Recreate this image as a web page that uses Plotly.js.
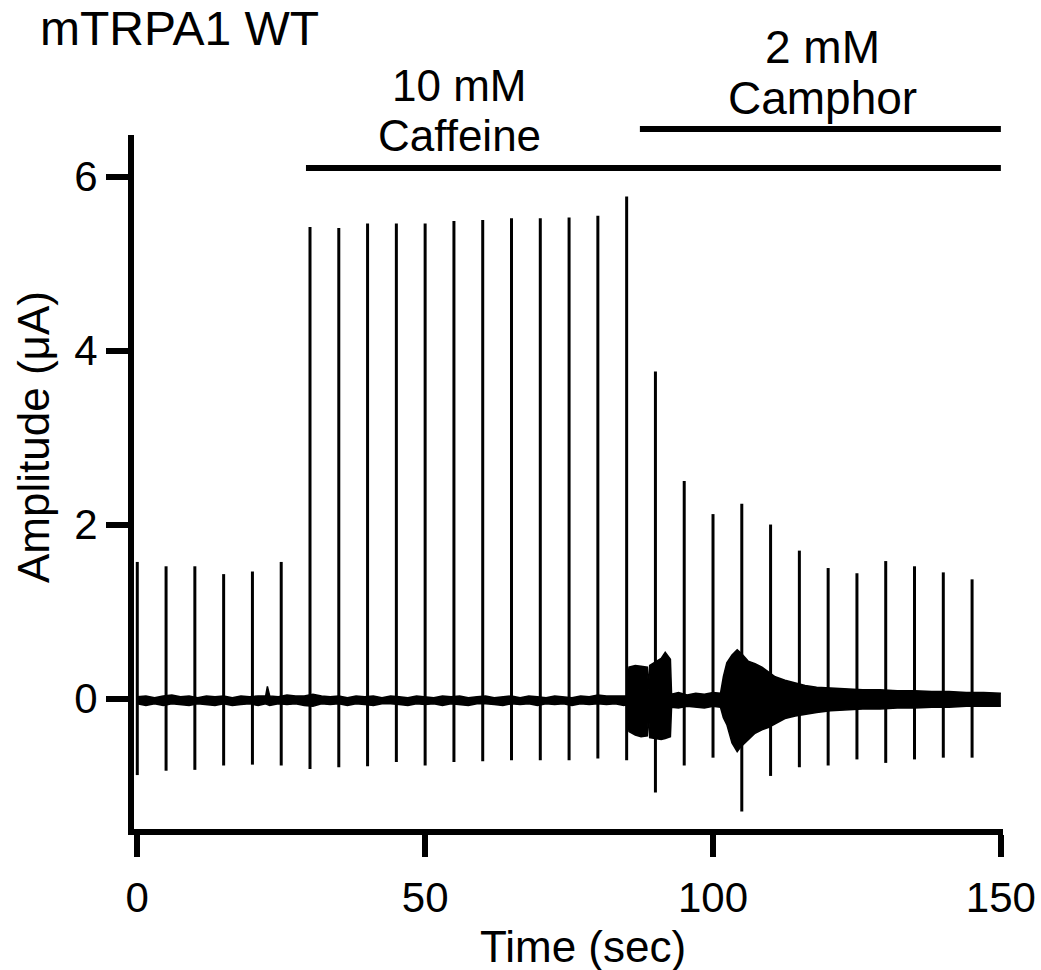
<!DOCTYPE html>
<html>
<head>
<meta charset="utf-8">
<script src="https://cdn.plot.ly/plotly-3.0.1.min.js"></script>
<style>html,body{margin:0;padding:0;background:#fff;}#chart{width:1041px;height:970px;}</style>
</head>
<body>
<div id="chart"></div>
<script>
// ---------------- data ----------------
var spikeTimes = [0, 5, 10, 15, 20, 25, 30, 35, 40, 45, 50, 55, 60, 65, 70, 75, 80, 85, 90, 95, 100, 105, 110, 115, 120, 125, 130, 135, 140, 145];
var spikePeak  = [1.57, 1.52, 1.52, 1.43, 1.46, 1.57, 5.42, 5.41, 5.46, 5.46, 5.46, 5.49, 5.50, 5.52, 5.52, 5.53, 5.55, 5.77, 3.76, 2.50, 2.12, 2.24, 2.00, 1.70, 1.50, 1.44, 1.58, 1.52, 1.45, 1.37];
var spikeTrough = [-0.88, -0.83, -0.82, -0.77, -0.76, -0.77, -0.81, -0.79, -0.78, -0.73, -0.77, -0.73, -0.72, -0.71, -0.71, -0.71, -0.69, -0.71, -1.08, -0.77, -0.68, -1.30, -0.89, -0.79, -0.77, -0.70, -0.74, -0.70, -0.68, -0.68];

// envelope of the recorded current trace (upper / lower edge)
var bandT = [
  0, 1.5, 3, 4.5, 6, 7.5, 9, 10.5, 12, 13.5,
  15, 16.5, 18, 19.5, 21, 22.3, 22.6, 23, 24.5, 26,
  27.5, 29, 30.5, 32, 33.5, 35, 36.5, 38, 39.5, 41,
  42.5, 44, 45.5, 47, 48.5, 50, 51.5, 53, 54.5, 56,
  57.5, 59, 60.5, 62, 63.5, 65, 66.5, 68, 69.5, 71,
  72.5, 74, 75.5, 77, 78.5, 80, 81.5, 83, 84.5, 85.0,
  85.4, 86.5, 87.5, 88.6, 88.8, 89.0, 90.0, 91.0, 91.7, 92.3,
  92.6, 92.8, 94, 95.5, 97, 98.5, 100, 101.3, 101.8, 102.4,
  103.3, 104.2, 104.9, 106.1, 107.3, 108.5, 109.7, 110.8, 112.5, 114.3,
  116, 118, 120.4, 123, 126, 129, 132, 135, 138, 141,
  144, 147, 150
];
var bandHi = [
  0.02, 0.03, 0.01, 0.03, 0.04, 0.02, 0.03, 0.01, 0.03, 0.02,
  0.03, 0.01, 0.03, 0.02, 0.03, 0.03, 0.14, 0.03, 0.02, 0.04,
  0.03, 0.03, 0.05, 0.03, 0.02, 0.03, 0.01, 0.03, 0.02, 0.03,
  0.01, 0.03, 0.02, 0.01, 0.03, 0.02, 0.01, 0.03, 0.02, 0.03,
  0.01, 0.02, 0.03, 0.01, 0.02, 0.03, 0.01, 0.03, 0.02, 0.01,
  0.03, 0.02, 0.01, 0.03, 0.02, 0.04, 0.03, 0.03, 0.03, 0.03,
  0.36, 0.38, 0.37, 0.36, 0.10, 0.38, 0.42, 0.46, 0.53, 0.48,
  0.45, 0.05, 0.07, 0.04, 0.06, 0.05, 0.07, 0.06, 0.25, 0.41,
  0.50, 0.56, 0.52, 0.43, 0.40, 0.36, 0.30, 0.25, 0.21, 0.18,
  0.15, 0.13, 0.12, 0.11, 0.10, 0.10, 0.09, 0.09, 0.08, 0.08,
  0.07, 0.07, 0.06
];
var bandLo = [
  -0.06, -0.08, -0.06, -0.08, -0.06, -0.07, -0.08, -0.06, -0.07, -0.08,
  -0.06, -0.08, -0.07, -0.06, -0.08, -0.06, -0.07, -0.08, -0.06, -0.07,
  -0.06, -0.08, -0.09, -0.06, -0.07, -0.06, -0.08, -0.06, -0.07, -0.08,
  -0.06, -0.06, -0.07, -0.08, -0.06, -0.07, -0.06, -0.08, -0.06, -0.07,
  -0.08, -0.06, -0.06, -0.07, -0.08, -0.06, -0.07, -0.06, -0.08, -0.06,
  -0.07, -0.06, -0.08, -0.06, -0.07, -0.06, -0.07, -0.06, -0.08, -0.07,
  -0.38, -0.42, -0.44, -0.43, -0.15, -0.45, -0.46, -0.47, -0.46, -0.45,
  -0.44, -0.10, -0.11, -0.09, -0.10, -0.11, -0.09, -0.10, -0.22, -0.30,
  -0.51, -0.61, -0.55, -0.47, -0.40, -0.36, -0.33, -0.29, -0.23, -0.20,
  -0.18, -0.16, -0.14, -0.13, -0.12, -0.12, -0.11, -0.11, -0.10, -0.10,
  -0.09, -0.09, -0.09
];

// drug application periods (sec)
var drugLine1 = ["10 mM", "2 mM"];
var drugLine2 = ["Caffeine", "Camphor"];
var drugStart = [29.3, 87.3];
var drugEnd = [150, 150];

var xTicks = [0, 50, 100, 150];
var yTicks = [0, 2, 4, 6];

// ---------------- layout geometry ----------------
var W = 1041, H = 970;
var L = 134, R = 1003, T = 135, B = 829;
var pw = R - L, ph = B - T;
function px(x) { return (x - L) / pw; }
function py(y) { return (B - y) / ph; }

var FONT = "Liberation Sans, Arial, Helvetica, sans-serif";

// spikes as vertical segments
var sx = [], sy = [];
for (var i = 0; i < spikeTimes.length; i++) {
  sx.push(spikeTimes[i], spikeTimes[i], null);
  sy.push(spikePeak[i], spikeTrough[i], null);
}

var traces = [
  {x: bandT, y: bandHi, mode: "lines", line: {color: "#000", width: 1.5}, hoverinfo: "skip", showlegend: false},
  {x: bandT, y: bandLo, mode: "lines", line: {color: "#000", width: 1.5}, fill: "tonexty", fillcolor: "#000", hoverinfo: "skip", showlegend: false},
  {x: sx, y: sy, mode: "lines", line: {color: "#000", width: 3}, hoverinfo: "skip", showlegend: false, connectgaps: false}
];

var barY = [168, 129];
var textY1 = [86, 47];
var textY2 = [135, 98];
var textX = [459, 822];
var textSize = [44, 46];

var shapes = [], annotations = [];
for (var k = 0; k < drugStart.length; k++) {
  shapes.push({type: "line", xref: "x", yref: "paper", x0: drugStart[k], x1: drugEnd[k], y0: py(barY[k]), y1: py(barY[k]), line: {color: "#000", width: 6}});
  annotations.push({xref: "paper", yref: "paper", x: px(textX[k]), y: py(textY1[k]), text: drugLine1[k], showarrow: false, xanchor: "center", yanchor: "middle", font: {family: FONT, size: textSize[k], color: "#000"}});
  annotations.push({xref: "paper", yref: "paper", x: px(textX[k]), y: py(textY2[k]), text: drugLine2[k], showarrow: false, xanchor: "center", yanchor: "middle", font: {family: FONT, size: textSize[k], color: "#000"}});
}
annotations.push({xref: "paper", yref: "paper", x: px(38), y: py(29), text: "mTRPA1 WT", showarrow: false, xanchor: "left", yanchor: "middle", font: {family: FONT, size: 48, color: "#000"}});
annotations.push({xref: "paper", yref: "paper", x: px(583), y: py(946), text: "Time (sec)", showarrow: false, xanchor: "center", yanchor: "middle", font: {family: FONT, size: 44, color: "#000"}});
annotations.push({xref: "paper", yref: "paper", x: px(33), y: py(437), text: "Amplitude (μA)", textangle: -90, showarrow: false, xanchor: "center", yanchor: "middle", font: {family: FONT, size: 44, color: "#000"}});

var layout = {
  width: W, height: H,
  margin: {l: L, r: W - R, t: T, b: H - B, pad: 0},
  paper_bgcolor: "#fff", plot_bgcolor: "#fff",
  showlegend: false,
  font: {family: FONT, color: "#000"},
  xaxis: {
    range: [-0.57, 150.37], showgrid: false, zeroline: false,
    showline: true, linecolor: "#000", linewidth: 6,
    ticks: "outside", ticklen: 22, tickwidth: 6, tickcolor: "#000",
    tickmode: "array", tickvals: xTicks, ticktext: xTicks.map(String),
    ticklabelstandoff: 5,
    tickfont: {family: FONT, size: 42, color: "#000"}
  },
  yaxis: {
    range: [-1.5, 6.478], showgrid: false, zeroline: false,
    showline: true, linecolor: "#000", linewidth: 6,
    ticks: "outside", ticklen: 22, tickwidth: 6, tickcolor: "#000",
    tickmode: "array", tickvals: yTicks, ticktext: yTicks.map(String),
    tickfont: {family: FONT, size: 42, color: "#000"}
  },
  shapes: shapes,
  annotations: annotations
};

Plotly.newPlot("chart", traces, layout, {staticPlot: true, displayModeBar: false});
</script>
</body>
</html>
